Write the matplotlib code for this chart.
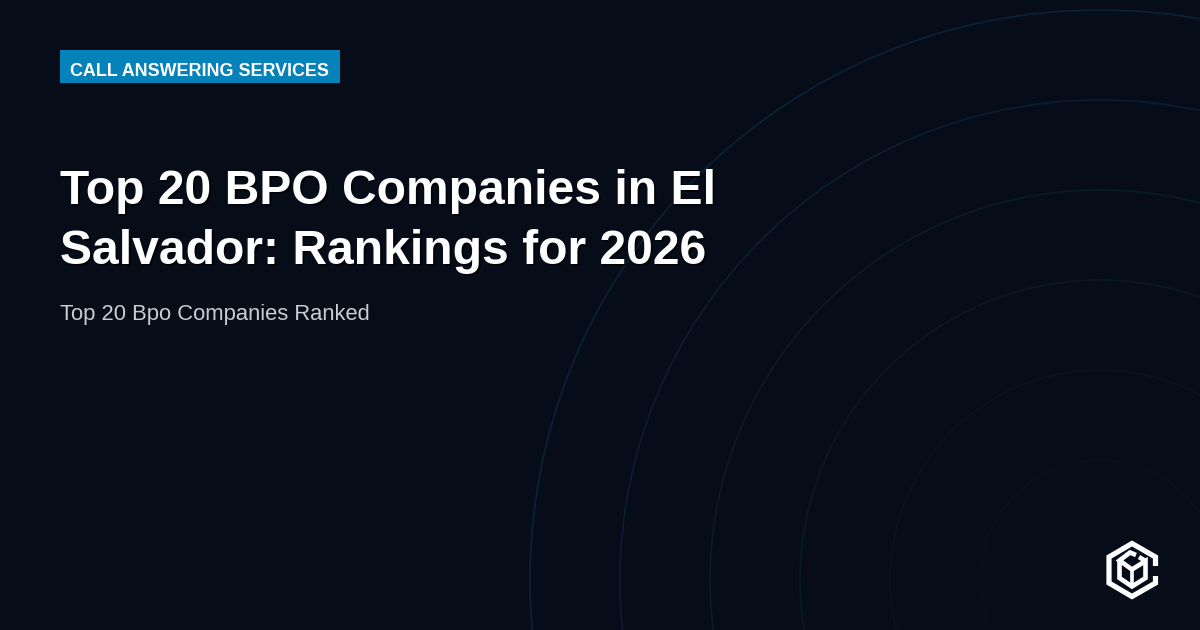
import matplotlib
matplotlib.use("Agg")
import matplotlib.pyplot as plt
from matplotlib.patches import Circle, Rectangle

BADGE = "CALL ANSWERING SERVICES"
TITLE_LINES = ["Top 20 BPO Companies in El", "Salvador: Rankings for 2026"]
SUBTITLE = "Top 20 Bpo Companies Ranked"
RING_RADII = [120, 210, 300, 390, 480, 570]
RING_COLORS = ["#08101b", "#09131f", "#0a1724", "#0a1a29", "#0b1d2e", "#0b2032"]

W, H = 1200, 630
BG = "#060c18"
FONT = "Liberation Sans"

fig = plt.figure(figsize=(W / 100, H / 100), dpi=100, facecolor=BG)
ax = fig.add_axes([0, 0, 1, 1])
ax.set_xlim(0, W)
ax.set_ylim(H, 0)
ax.axis("off")
px = 0.72

for r, c in zip(RING_RADII, RING_COLORS):
    ax.add_patch(Circle((1100, 580), r, fill=False, ec=c, lw=1.8 * px))

ax.add_patch(Rectangle((60, 50), 280, 33, fc="#0582b9", ec="none"))
ax.text(70, 76.5, BADGE, family=FONT, weight="bold", fontsize=17.9 * px, color="#ffffff", va="baseline", ha="left")

for line, y in zip(TITLE_LINES, [204, 264]):
    ax.text(61.5, y + 2, line, family=FONT, weight="bold", fontsize=48 * px, color="#000000", alpha=0.6, va="baseline", ha="left")
    ax.text(60, y, line, family=FONT, weight="bold", fontsize=48 * px, color="#ffffff", va="baseline", ha="left")
ax.text(60, 320, SUBTITLE, family=FONT, fontsize=22 * px, color="#c9ced6", va="baseline", ha="left")

# logo
WHITE = "#ffffff"
lw = 5.2 * px
ax.plot([1155.5, 1155.5, 1132, 1109, 1109, 1132, 1155.5, 1155.5],
        [566, 557, 543.5, 557, 583, 596.5, 583, 576],
        color=WHITE, lw=lw, solid_capstyle="butt", solid_joinstyle="miter")
ilw = 4.6 * px
ax.plot([1136, 1130, 1119.5, 1132, 1145.5, 1145.5, 1132, 1119.5, 1119.5],
        [555, 552.5, 560.5, 569.5, 561, 578, 586.5, 578, 560.5],
        color=WHITE, lw=ilw, solid_capstyle="butt", solid_joinstyle="miter")
ax.plot([1132, 1132], [569.5, 586.5], color=WHITE, lw=ilw * 0.8, solid_capstyle="butt")
ax.plot([1139, 1145.5], [557, 561], color=WHITE, lw=ilw, solid_capstyle="butt")

fig.savefig("out.png", dpi=100, facecolor=BG)
